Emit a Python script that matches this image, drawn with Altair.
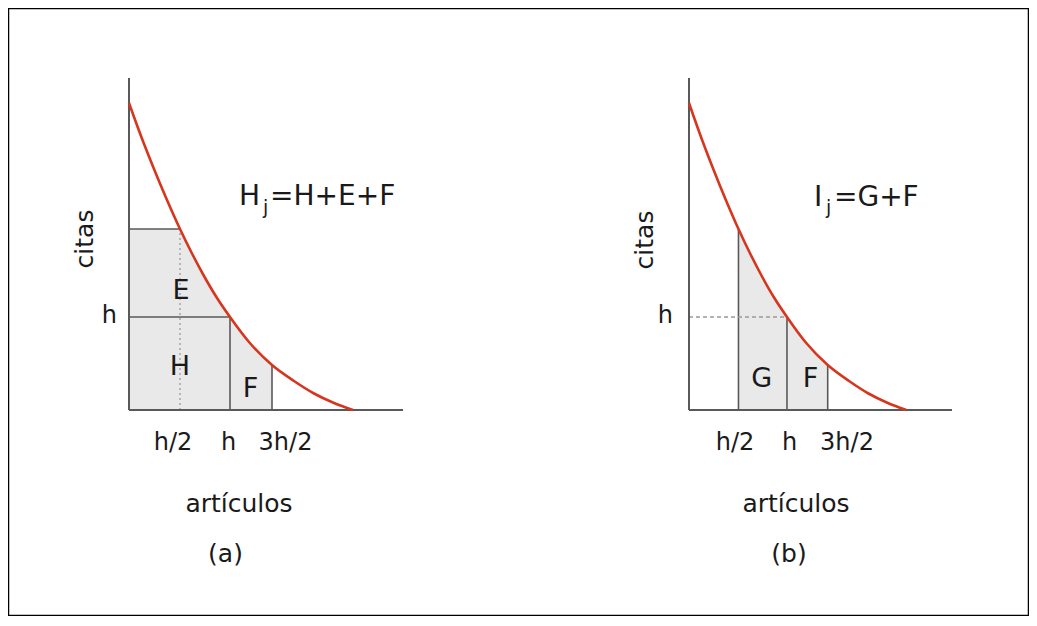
import altair as alt
import pandas as pd

# ---- values (panel units: 1 unit ~ 1 px of panel (a)) ----
curve_x = [0, 12, 25, 38, 51, 63, 75, 88, 101, 120, 143, 165, 185, 205, 224]
curve_y = [307, 274, 241, 210, 181, 156.5, 134, 112, 93, 68, 45, 29, 16.5, 7, 0]

x_half = 51        # h/2 on the articles axis
x_h = 101          # h
x_3half = 143      # 3h/2
y_h = 93           # h on the citations axis
y_at_half = 181    # citations at h/2
y_at_3half = 45    # citations at 3h/2

panels = ["a", "b"]
panel_offset = {"a": 0, "b": 560}
panel_xscale = {"a": 1.0, "b": 0.97}
x_axis_len = {"a": 274, "b": 263}
y_axis_len = 332

tick_labels = ["h/2", "h", "3h/2"]

# ---- tables built from the values ----
def px(p, x):
    return panel_offset[p] + panel_xscale[p] * x

curve_rows, fill_rows = [], []
for p in panels:
    for x, y in zip(curve_x, curve_y):
        curve_rows.append({"panel": p, "x": px(p, x), "y": y})
        if x_half <= x <= x_3half:
            fill_rows.append({"panel": p, "x": px(p, x), "y": y})
curve_df = pd.DataFrame(curve_rows)
fill_df = pd.DataFrame(fill_rows)

# rectangle part of E + H in panel (a) left of h/2
rect_df = pd.DataFrame([{"x": px("a", 0), "x2": px("a", x_half), "y": 0, "y2": y_at_half}])

axis_rows, solid_rows, dotted_rows, dashed_rows = [], [], [], []
for p in panels:
    axis_rows.append({"x": px(p, 0), "x2": px(p, 0), "y": 0, "y2": y_axis_len})
    axis_rows.append({"x": px(p, 0), "x2": px(p, 0) + x_axis_len[p], "y": 0, "y2": 0})
# panel (a)
solid_rows += [
    {"x": px("a", 0), "x2": px("a", x_half), "y": y_at_half, "y2": y_at_half},
    {"x": px("a", 0), "x2": px("a", x_h), "y": y_h, "y2": y_h},
    {"x": px("a", x_h), "x2": px("a", x_h), "y": 0, "y2": y_h},
    {"x": px("a", x_3half), "x2": px("a", x_3half), "y": 0, "y2": y_at_3half},
]
dotted_rows.append({"x": px("a", x_half), "x2": px("a", x_half), "y": 0, "y2": y_at_half})
# panel (b)
solid_rows += [
    {"x": px("b", x_half), "x2": px("b", x_half), "y": 0, "y2": y_at_half},
    {"x": px("b", x_h), "x2": px("b", x_h), "y": 0, "y2": y_h},
    {"x": px("b", x_3half), "x2": px("b", x_3half), "y": 0, "y2": y_at_3half},
]
dashed_rows.append({"x": px("b", 0), "x2": px("b", x_h), "y": y_h, "y2": y_h})

axis_df = pd.DataFrame(axis_rows)
solid_df = pd.DataFrame(solid_rows)
dotted_df = pd.DataFrame(dotted_rows)
dashed_df = pd.DataFrame(dashed_rows)

# ---- text ----
center_texts = pd.DataFrame([
    {"x": 44, "y": -40, "t": tick_labels[0], "s": 24},
    {"x": 99.5, "y": -40, "t": tick_labels[1], "s": 24},
    {"x": 156.5, "y": -40, "t": tick_labels[2], "s": 24},
    {"x": 110, "y": -102, "t": "artículos", "s": 25},
    {"x": 96.5, "y": -152, "t": "(a)", "s": 25},
    {"x": 52, "y": 111.5, "t": "E", "s": 27},
    {"x": 51, "y": 35, "t": "H", "s": 27},
    {"x": 121.5, "y": 13.3, "t": "F", "s": 27},
    {"x": 606, "y": -40, "t": tick_labels[0], "s": 24},
    {"x": 660.5, "y": -40, "t": tick_labels[1], "s": 24},
    {"x": 718, "y": -40, "t": tick_labels[2], "s": 24},
    {"x": 667, "y": -102, "t": "artículos", "s": 25},
    {"x": 660, "y": -152, "t": "(b)", "s": 25},
    {"x": 632.7, "y": 23, "t": "G", "s": 27},
    {"x": 681.5, "y": 23.3, "t": "F", "s": 27},
])
right_texts = pd.DataFrame([
    {"x": -12, "y": 87, "t": "h", "s": 24},
    {"x": 544, "y": 87.3, "t": "h", "s": 24},
])
left_texts = pd.DataFrame([
    {"x": 110, "y": 205, "t": "H", "s": 28},
    {"x": 134, "y": 196, "t": "j", "s": 19},
    {"x": 141, "y": 205, "t": "=H+E+F", "s": 28},
    {"x": 685, "y": 204, "t": "I", "s": 28},
    {"x": 697, "y": 196, "t": "j", "s": 19},
    {"x": 705, "y": 204, "t": "=G+F", "s": 28},
])
rot_texts = pd.DataFrame([
    {"x": -36, "y": 171, "t": "citas", "s": 25},
    {"x": 524, "y": 170, "t": "citas", "s": 25},
])

XS = alt.Scale(domain=[-121, 900], nice=False, zero=False)
YS = alt.Scale(domain=[-206, 402], nice=False, zero=False)
X = alt.X("x:Q", scale=XS, axis=None)
Y = alt.Y("y:Q", scale=YS, axis=None)
Y_nostack = alt.Y("y:Q", scale=YS, axis=None, stack=None)

FILL = "#e9e9e9"
LINE = "#595959"
RED = "#d6361e"
FONT = "DejaVu Sans"
TXT = "#1a1a1a"

rect = alt.Chart(rect_df).mark_rect(color=FILL).encode(x=X, x2="x2:Q", y=Y, y2="y2:Q")
fills = [
    alt.Chart(fill_df).transform_filter(alt.datum.panel == p)
    .mark_area(color=FILL, interpolate="monotone").encode(x=X, y=Y_nostack)
    for p in panels
]

axes = alt.Chart(axis_df).mark_rule(color=LINE, strokeWidth=2).encode(
    x=X, x2="x2:Q", y=Y, y2="y2:Q")
solid = alt.Chart(solid_df).mark_rule(color=LINE, strokeWidth=1.6).encode(
    x=X, x2="x2:Q", y=Y, y2="y2:Q")
dotted = alt.Chart(dotted_df).mark_rule(color="#9a9a9a", strokeWidth=1.3, strokeDash=[2, 3]).encode(
    x=X, x2="x2:Q", y=Y, y2="y2:Q")
dashed = alt.Chart(dashed_df).mark_rule(color="#9a9a9a", strokeWidth=1.3, strokeDash=[4, 3]).encode(
    x=X, x2="x2:Q", y=Y, y2="y2:Q")

curves = [
    alt.Chart(curve_df).transform_filter(alt.datum.panel == p)
    .mark_line(color=RED, strokeWidth=2.6, interpolate="monotone").encode(x=X, y=Y)
    for p in panels
]

def text_layer(df, **kw):
    return alt.Chart(df).mark_text(font=FONT, color=TXT, baseline="alphabetic", **kw).encode(
        x=X, y=Y, text="t:N", size=alt.Size("s:Q", scale=None, legend=None))

chart = alt.layer(
    rect, *fills, solid, dotted, dashed, axes, *curves,
    text_layer(center_texts, align="center"),
    text_layer(right_texts, align="right"),
    text_layer(left_texts, align="left"),
    text_layer(rot_texts, align="center", angle=270),
).properties(
    width=1021, height=608, padding=0,
    autosize=alt.AutoSizeParams(type="fit", contains="padding"),
).configure_view(stroke="black", strokeWidth=2.5)

chart.save("out.html", embed_options={"renderer": "svg", "actions": False})
